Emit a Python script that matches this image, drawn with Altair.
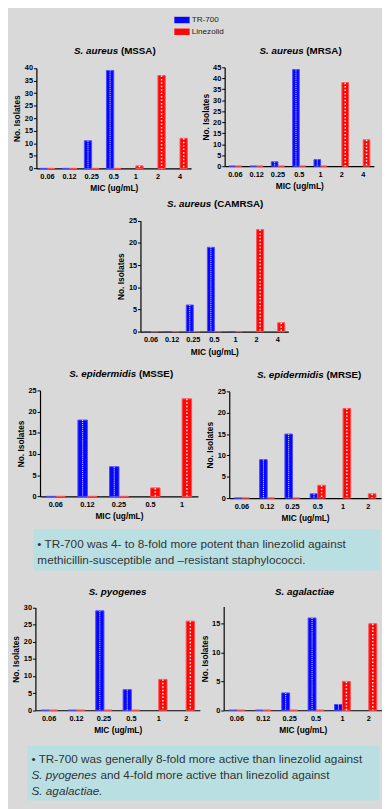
import altair as alt
import pandas as pd

# ---------------- data ----------------
series = ["TR-700", "Linezolid"]
fill_colors = ["#0606ff", "#ff0606"]
edge_colors = ["#4a4aff", "#ff5050"]

mic7 = ["0.06", "0.12", "0.25", "0.5", "1", "2", "4"]
mic6 = ["0.06", "0.12", "0.25", "0.5", "1", "2"]
mic5 = ["0.06", "0.12", "0.25", "0.5", "1"]

N = None
mssa_tr = [0, 0, 11, 39, N, N, N]
mssa_lzd = [0, 0, 0, 0, 1, 37, 12]
mrsa_tr = [0, 0, 2, 44, 3, N, N]
mrsa_lzd = [0, 0, 0, 0, 0, 38, 12]
camrsa_tr = [0, 0, 6, 19, 0, N, N]
camrsa_lzd = [0, 0, 0, 0, 0, 23, 2]
msse_tr = [0, 18, 7, N, N]
msse_lzd = [0, 0, 0, 2, 23]
mrse_tr = [0, 9, 15, 1, N, N]
mrse_lzd = [0, 0, 0, 3, 21, 1]
pyo_tr = [0, 0, 29, 6, N, N]
pyo_lzd = [0, 0, 0, 0, 9, 26]
aga_tr = [0, 0, 3, 16, 1, N]
aga_lzd = [0, 0, 0, 0, 5, 15]

titles_italic = ["S. aureus", "S. aureus", "S. aureus", "S. epidermidis",
                 "S. epidermidis", "S. pyogenes", "S. agalactiae"]
titles_rest = ["(MSSA)", "(MRSA)", "(CAMRSA)", "(MSSE)", "(MRSE)", "", ""]
x_title = "MIC (ug/mL)"
y_title = "No. Isolates"

note1 = ["\u2022 TR-700 was 4- to 8-fold more potent than linezolid against",
         "methicillin-susceptible and \u2013resistant staphylococci."]
note2_line1 = "\u2022 TR-700 was generally 8-fold more active than linezolid against"
note2_line2_italic = "S. pyogenes"
note2_line2_rest = "and 4-fold more active than linezolid against"
note2_line3_italic = "S. agalactiae."

# ---------------- layout ----------------
W, H = 382, 801
FONT = "Liberation Sans"
BG = "#d9d9d9"
BOX = "#b9dfe2"

panels = [
    dict(cats=mic7, tr=mssa_tr, lz=mssa_lzd, xr=[29, 187], yr=[155.3, 52.7], ymax=40,
         ticks=list(range(0, 41, 5)), pi=0.34, title=(115.3, 35)),
    dict(cats=mic7, tr=mrsa_tr, lz=mrsa_lzd, xr=[221.3, 373.7], yr=[153, 52], ymax=45,
         ticks=list(range(0, 46, 5)), pi=0.38, title=(304.7, 35)),
    dict(cats=mic7, tr=camrsa_tr, lz=camrsa_lzd, xr=[135.3, 286.3], yr=[322, 208.7], ymax=25,
         ticks=list(range(0, 26, 5)), pi=0.34, title=(210.3, 191.3)),
    dict(cats=mic5, tr=msse_tr, lz=msse_lzd, xr=[32.7, 194], yr=[490.3, 382], ymax=25,
         ticks=list(range(0, 26, 5)), pi=0.4, title=(133.7, 365.3)),
    dict(cats=mic6, tr=mrse_tr, lz=mrse_lzd, xr=[226, 381], yr=[492, 383], ymax=25,
         ticks=list(range(0, 26, 5)), pi=0.4, title=(325.3, 366)),
    dict(cats=mic6, tr=pyo_tr, lz=pyo_lzd, xr=[28, 196], yr=[708.7, 603.7], ymax=30,
         ticks=list(range(0, 31, 5)), pi=0.4, title=(112, 588)),
    dict(cats=mic6, tr=aga_tr, lz=aga_lzd, xr=[220.3, 382], yr=[708.7, 602.7], ymax=18,
         ticks=[0, 5, 10, 15], pi=0.4, title=(303, 588)),
]

legend = alt.Legend(
    orient="none", legendX=169.7, legendY=-4.3, title=None,
    symbolType="M-1,-0.42H1V0.42H-1Z", symbolSize=243, symbolStrokeWidth=0,
    labelFont=FONT, labelFontSize=8.3, labelColor="#222222", labelOffset=2,
    rowPadding=-4.4, padding=0,
)


def panel_layers(p):
    rows = []
    for i, c in enumerate(p["cats"]):
        rows.append({"mic": c, "series": series[0], "value": p["tr"][i]})
        rows.append({"mic": c, "series": series[1], "value": p["lz"][i]})
    df = pd.DataFrame(rows)
    xs = alt.Scale(domain=p["cats"], range=p["xr"], paddingInner=p["pi"],
                   paddingOuter=p["pi"] / 2)
    ys = alt.Scale(domain=[0, p["ymax"]], range=p["yr"], nice=False, zero=True)
    os_ = alt.Scale(domain=series, paddingInner=0, paddingOuter=0)
    xmid = (p["xr"][0] + p["xr"][1]) / 2
    ymid = (p["yr"][0] + p["yr"][1]) / 2
    xaxis = alt.Axis(orient="bottom", offset=p["yr"][0] - H, title=x_title,
                     ticks=False, tickSize=0, labelAngle=0, labelFont=FONT,
                     labelFontSize=7.5, labelFontWeight="bold", labelColor="black",
                     labelPadding=4.2, titleFont=FONT, titleFontSize=8.5,
                     titleFontWeight="bold", titleColor="black", titleX=xmid,
                     titleY=20, titleAlign="center", titleBaseline="middle",
                     domainColor="black", domainWidth=1.2)
    yaxis = alt.Axis(orient="left", offset=-p["xr"][0], title=y_title, values=p["ticks"],
                     grid=False, tickSize=3, tickColor="black", tickWidth=1,
                     labelFont=FONT, labelFontSize=7.5, labelFontWeight="bold",
                     labelColor="black", labelPadding=1, titleFont=FONT,
                     titleFontSize=8.5, titleFontWeight="bold", titleColor="black",
                     titleX=-20, titleY=ymid, titleAngle=-90, titleAlign="center",
                     titleBaseline="middle", domainColor="black", domainWidth=1.2)
    base = alt.Chart(df)
    bars = base.mark_bar(strokeWidth=1).encode(
        x=alt.X("mic:N", sort=p["cats"], scale=xs, axis=xaxis),
        xOffset=alt.XOffset("series:N", sort=series, scale=os_),
        y=alt.Y("value:Q", scale=ys, axis=yaxis),
        color=alt.Color("series:N", sort=series,
                        scale=alt.Scale(domain=series, range=fill_colors), legend=legend),
        stroke=alt.Stroke("series:N", sort=series,
                          scale=alt.Scale(domain=series, range=edge_colors), legend=None),
    )
    enc = dict(
        x=alt.X("mic:N", sort=p["cats"], scale=xs, axis=None),
        xOffset=alt.XOffset("series:N", sort=series, scale=os_),
        y=alt.Y("value:Q", scale=ys, axis=None),
        y2=alt.datum(0),
    )
    nz = base.transform_filter("datum.value > 0")
    # blue: a fine dotted white column; red: small white squares
    tex_b = nz.transform_filter(alt.datum.series == series[0]).mark_rule(
        color="white", strokeWidth=1, strokeDash=[1, 1], xOffset=0.8
    ).encode(**enc)
    tex_r = nz.transform_filter(alt.datum.series == series[1]).mark_rule(
        color="white", strokeWidth=1.5, strokeDash=[1.5, 2], opacity=0.95
    ).encode(**enc)
    return [bars, tex_b, tex_r]


def text_layer(s, x, y, size, weight="normal", style="normal", align="left",
               color="black"):
    return alt.Chart(pd.DataFrame({"t": [s]})).mark_text(
        font=FONT, fontSize=size, fontWeight=weight, fontStyle=style, align=align,
        baseline="middle", color=color,
    ).encode(x=alt.value(x), y=alt.value(y), text="t:N")


layers = []
for k, p in enumerate(panels):
    layers += panel_layers(p)
    tx, ty = p["title"]
    if titles_rest[k]:
        layers.append(text_layer(titles_italic[k], tx - 2.8, ty, 10, "bold", "italic", "right"))
        layers.append(text_layer(titles_rest[k], tx, ty, 10, "bold", "normal", "left"))
    else:
        layers.append(text_layer(titles_italic[k], tx, ty, 10, "bold", "italic", "center"))

box_src = pd.DataFrame({"b": ["box"]})
box1 = alt.Chart(box_src).mark_rect(color=BOX).encode(
    x=alt.value(26), x2=alt.value(380), y=alt.value(523.7), y2=alt.value(566))
box2 = alt.Chart(box_src).mark_rect(color=BOX).encode(
    x=alt.value(20), x2=alt.value(379), y=alt.value(745), y2=alt.value(801))
layers += [box1, box2]

NC = "#333333"
NS = 12
layers.append(text_layer(note1[0], 30, 539, NS, color=NC))
layers.append(text_layer(note1[1], 30, 555, NS, color=NC))
layers.append(text_layer(note2_line1, 24, 759, NS, color=NC))
layers.append(text_layer(note2_line2_italic, 24, 775, NS, style="italic", color=NC))
layers.append(text_layer(note2_line2_rest, 94.5, 775, NS, color=NC))
layers.append(text_layer(note2_line3_italic, 24, 791, NS, style="italic", color=NC))

chart = alt.layer(*layers).resolve_scale(
    x="independent", y="independent", xOffset="independent"
).properties(
    width=W, height=H, autosize=alt.AutoSizeParams(type="none"), padding=0,
    background=BG,
).configure_view(stroke=None)

chart.save("out.html", embed_options={"renderer": "svg", "actions": False})
